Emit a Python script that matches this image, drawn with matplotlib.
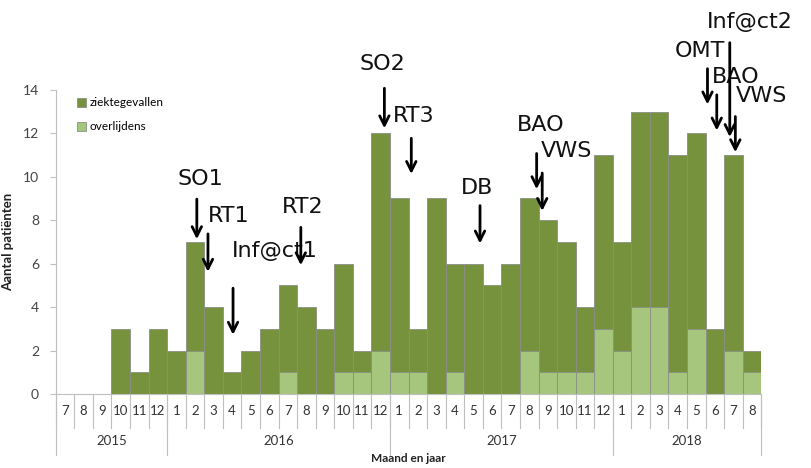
import matplotlib
matplotlib.use("Agg")
import matplotlib.pyplot as plt
import matplotlib.transforms as mtransforms
import numpy as np

# ── data ────────────────────────────────────────────────────────────────────
MONTHS = [7, 8, 9, 10, 11, 12,
          1, 2, 3, 4, 5, 6, 7, 8, 9, 10, 11, 12,
          1, 2, 3, 4, 5, 6, 7, 8, 9, 10, 11, 12,
          1, 2, 3, 4, 5, 6, 7, 8]
YEARS = ["2015", "2016", "2017", "2018"]
YEAR_LEN = [6, 12, 12, 8]
CASES = [0, 0, 0, 3, 1, 3,
         2, 7, 4, 1, 2, 3, 5, 4, 3, 6, 2, 12,
         9, 3, 9, 6, 6, 5, 6, 9, 8, 7, 4, 11,
         7, 13, 13, 11, 12, 3, 11, 2]
DEATHS = [0, 0, 0, 0, 0, 0,
          0, 2, 0, 0, 0, 0, 1, 0, 0, 1, 1, 2,
          1, 1, 0, 1, 0, 0, 0, 2, 1, 1, 1, 3,
          2, 4, 4, 1, 3, 0, 2, 1]

# events: label, text position (x, y), arrow x, arrow y start, arrow y end
EVENT_LABELS = ["SO1", "RT1", "Inf@ct1", "RT2", "SO2", "RT3", "DB",
                "BAO", "VWS", "OMT", "BAO", "VWS", "Inf@ct2"]
EVENT_TEXT_XY = [(7.3, 9.9), (8.8, 8.2), (11.3, 6.6), (12.8, 8.6),
                 (17.1, 15.2), (18.8, 12.8), (22.2, 9.5),
                 (25.6, 12.4), (27.0, 11.2),
                 (34.2, 15.8), (36.1, 14.6), (37.5, 13.7), (36.9, 17.1)]
EVENT_ARROW_X = [7.1, 7.7, 9.05, 12.7, 17.2, 18.65, 22.35,
                 25.4, 25.7, 34.6, 35.1, 36.1, 35.8]
EVENT_ARROW_Y = [(9.1, 7.0), (7.5, 5.5), (5.0, 2.6), (7.8, 5.8),
                 (14.2, 12.1), (11.9, 10.0), (8.8, 6.8),
                 (11.2, 9.3), (10.3, 8.3),
                 (15.1, 13.2), (13.9, 12.0), (12.9, 11.0), (16.3, 11.7)]

DARK = "#76923C"
LIGHT = "#A6C67E"
EDGE = "#8a8f86"
AXIS = "#bfbfbf"

plt.rcParams["font.family"] = ["Lato", "DejaVu Sans"]

fig = plt.figure(figsize=(8.12, 4.68), dpi=100)
ax = fig.add_axes([0.0686, 0.158, 0.8690, 0.650])

x = np.arange(len(MONTHS))
ax.bar(x, CASES, width=1.0, color=DARK, edgecolor=EDGE, linewidth=0.6,
       label="ziektegevallen", zorder=2)
ax.bar(x, DEATHS, width=1.0, color=LIGHT, edgecolor=EDGE, linewidth=0.6,
       label="overlijdens", zorder=3)

ax.set_xlim(-0.5, len(MONTHS) - 0.5)
ax.set_ylim(0, 14)
ax.set_yticks(range(0, 15, 2))
ax.tick_params(axis="y", labelsize=10, colors="#444444", length=4,
               color=AXIS, direction="out", pad=8)
ax.set_ylabel("Aantal patiënten", fontsize=9.5, fontweight="bold",
              color="#222222", labelpad=6)

for side in ["top", "right"]:
    ax.spines[side].set_visible(False)
ax.spines["left"].set_color(AXIS)
ax.spines["bottom"].set_color(AXIS)

# two-level category axis
ax.set_xticks(x)
ax.set_xticklabels([str(m) for m in MONTHS], fontsize=9.5, color="#333333")
ax.tick_params(axis="x", length=0, pad=8)
trans = mtransforms.blended_transform_factory(ax.transData, ax.transAxes)
for i in range(len(MONTHS) + 1):
    ax.plot([i - 0.5, i - 0.5], [0, -0.11], transform=trans, color=AXIS,
            lw=0.8, clip_on=False)
start = 0
for yr, n in zip(YEARS, YEAR_LEN):
    ax.plot([start - 0.5, start - 0.5], [0, -0.2], transform=trans,
            color=AXIS, lw=0.8, clip_on=False)
    ax.text(start + n / 2 - 0.5, -0.155, yr, transform=trans, ha="center",
            va="center", fontsize=9.5, color="#333333")
    start += n
ax.plot([start - 0.5, start - 0.5], [0, -0.2], transform=trans,
        color=AXIS, lw=0.8, clip_on=False)
ax.text(0.5, -0.212, "Maand en jaar", transform=ax.transAxes, ha="center",
        va="center", fontsize=8.5, fontweight="bold", color="#222222")

leg = ax.legend(loc="upper left", bbox_to_anchor=(0.015, 1.01), frameon=False,
                fontsize=8.5, handlelength=0.8, handleheight=0.8,
                handletextpad=0.3, labelspacing=1.1)

# event annotations
for lab, (tx, ty), axx, (y0, y1) in zip(EVENT_LABELS, EVENT_TEXT_XY,
                                        EVENT_ARROW_X, EVENT_ARROW_Y):
    ax.text(tx, ty, lab, ha="center", va="center", fontsize=16,
            family="DejaVu Sans", color="#111111", clip_on=False, zorder=6)
    ax.annotate("", xy=(axx, y1), xytext=(axx, y0),
                arrowprops=dict(arrowstyle="->", lw=2.0, color="black",
                                mutation_scale=17),
                annotation_clip=False, zorder=6)

fig.savefig("out.png", dpi=100)
